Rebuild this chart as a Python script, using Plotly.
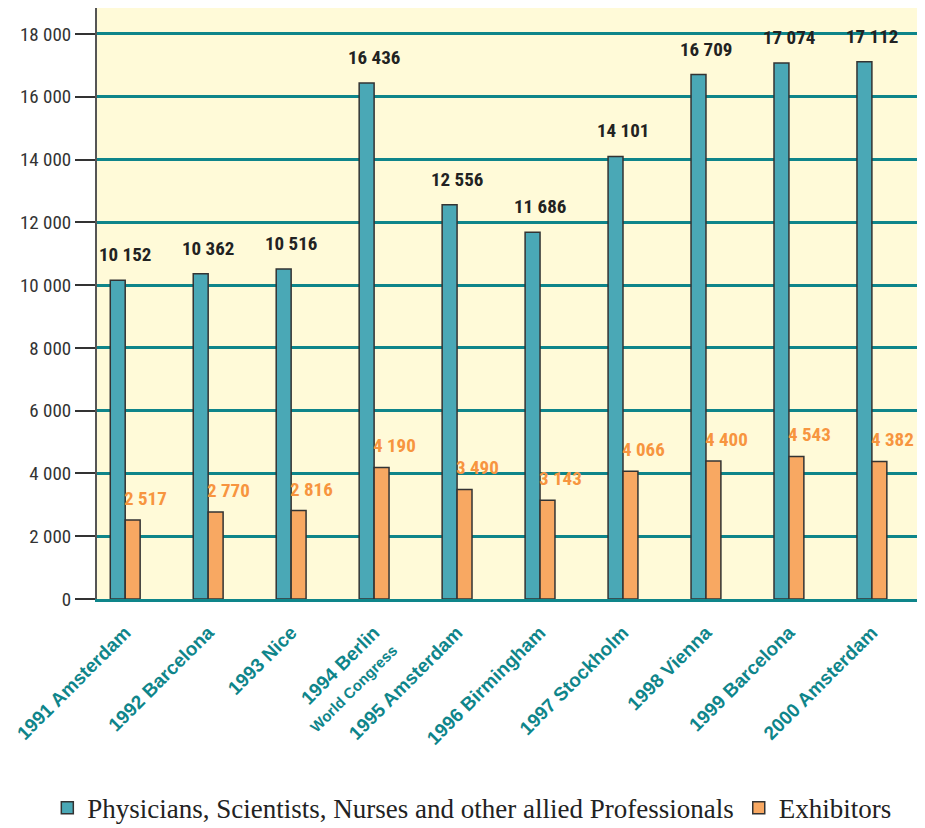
import plotly.graph_objects as go

categories = ["1991 Amsterdam", "1992 Barcelona", "1993 Nice", "1994 Berlin",
              "1995 Amsterdam", "1996 Birmingham", "1997 Stockholm", "1998 Vienna",
              "1999 Barcelona", "2000 Amsterdam"]
category_subtitles = ["", "", "", "World Congress", "", "", "", "", "", ""]
professionals = [10152, 10362, 10516, 16436, 12556, 11686, 14101, 16709, 17074, 17112]
exhibitors = [2517, 2770, 2816, 4190, 3490, 3143, 4066, 4400, 4543, 4382]
y_ticks = [0, 2000, 4000, 6000, 8000, 10000, 12000, 14000, 16000, 18000]

def fmt(v):
    return f"{v:,}".replace(",", " ")

TEAL_BAR = "#4AA8B6"
ORANGE_BAR = "#F8A862"
ORANGE_TXT = "#F7953F"
GRID = "#0E858A"
BG = "#FFFAD8"
COND = "Roboto Condensed, Liberation Sans Narrow, Roboto, sans-serif"

x = list(range(len(categories)))
ticktext = []
for c, s in zip(categories, category_subtitles):
    if s:
        ticktext.append(f"{c}<br><span style='font-size:15px'>{s}</span>")
    else:
        ticktext.append(c)

fig = go.Figure()
fig.add_trace(go.Bar(
    x=x, y=professionals, name="Physicians, Scientists, Nurses and other allied Professionals",
    marker=dict(color=TEAL_BAR, line=dict(color="#333333", width=1.5)),
    hoverinfo="skip"))
fig.add_trace(go.Bar(
    x=x, y=exhibitors, name="Exhibitors",
    marker=dict(color=ORANGE_BAR, line=dict(color="#333333", width=1.5)),
    hoverinfo="skip"))

annotations = []
for i, v in enumerate(professionals):
    annotations.append(dict(x=i, y=v, xref="x", yref="y", text=fmt(v), showarrow=False,
                            xanchor="center", yanchor="bottom", yshift=12,
                            font=dict(family=COND, size=19, color="#222222", weight="bold")))
for i, v in enumerate(exhibitors):
    annotations.append(dict(x=i, y=v, xref="x", yref="y", text=fmt(v), showarrow=False,
                            xanchor="left", xshift=-3, yanchor="bottom", yshift=8,
                            font=dict(family=COND, size=19, color=ORANGE_TXT, weight="bold")))

fig.update_layout(
    width=917, height=820,
    margin=dict(l=89, r=0, t=0, b=229, autoexpand=False),
    paper_bgcolor="white", plot_bgcolor=BG,
    barmode="group", bargap=0.64, bargroupgap=0,
    showlegend=True,
    legend=dict(orientation="h", x=-0.06, xanchor="left",
                y=-0.354, yanchor="middle",
                font=dict(family="Liberation Serif, Times New Roman, serif", size=27, color="#222222"),
                itemwidth=30, traceorder="normal", bgcolor="rgba(0,0,0,0)"),
    annotations=annotations,
    xaxis=dict(tickmode="array", tickvals=x, ticktext=ticktext, tickangle=-45,
               range=[-0.34, 9.64], showgrid=False,
               ticks="outside", ticklen=12, tickcolor="rgba(0,0,0,0)",
               showline=True, linecolor=GRID, linewidth=3, automargin=False,
               tickfont=dict(family="Liberation Sans, Arial, sans-serif", size=19, color=GRID, weight="bold")),
    yaxis=dict(range=[0, 18828], tickmode="array", tickvals=y_ticks,
               ticktext=[fmt(v) for v in y_ticks],
               showgrid=True, gridcolor=GRID, gridwidth=2.5,
               zeroline=False, automargin=False,
               showline=True, linecolor="#555555", linewidth=2,
               ticks="outside", ticklen=20, tickcolor="#333333", tickwidth=2,
               tickfont=dict(family=COND, size=19, color="#333333")),
)

fig.write_html("out.html")
